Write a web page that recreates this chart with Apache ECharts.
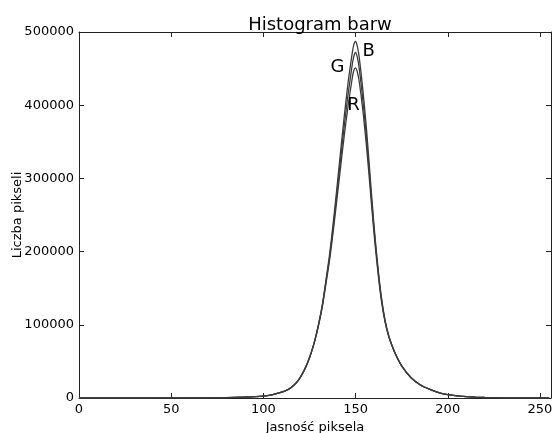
<!DOCTYPE html>
<html>
<head>
<meta charset="utf-8">
<script src="https://cdn.jsdelivr.net/npm/echarts@6/dist/echarts.min.js"></script>
<style>
  html, body { margin: 0; padding: 0; background: #fff; }
  #wykres { width: 553px; height: 433px; }
</style>
</head>
<body>
<div id="wykres"></div>
<script>
var wykres = echarts.init(document.getElementById("wykres"));

// jasnosc piksela (os x)
let jasnosc = [0, 20, 40, 60, 80, 90, 100, 104, 108, 112, 115, 118, 120, 122, 124, 126, 128, 130, 132, 134, 136, 138, 140, 142, 144, 146, 148, 149, 150, 151, 152, 154, 156, 158, 160, 162, 164, 166, 168, 170, 172, 175, 180, 185, 190, 196, 200, 205, 210, 215, 220, 230, 240, 255];

// liczba pikseli dla kanalow
let kanalR = [0, 0, 50, 200, 600, 1300, 2600, 3900, 6700, 10000, 14300, 21300, 28300, 37300, 48500, 62500, 79000, 100000, 125000, 157000, 190000, 230000, 274000, 318000, 361000, 400000, 434000, 447000, 451000, 445000, 432000, 392000, 342000, 284000, 225000, 175000, 133000, 104000, 84000, 70000, 58000, 44000, 28000, 18000, 12000, 6500, 4500, 3000, 2000, 1200, 700, 250, 80, 0];
let kanalG = [0, 0, 50, 200, 600, 1300, 2550, 3850, 6600, 9900, 14200, 21200, 28200, 37100, 48300, 62300, 79500, 101000, 126500, 160000, 194000, 236000, 282000, 329000, 375000, 416000, 452000, 466000, 472000, 465000, 450000, 406000, 354000, 292000, 231000, 179000, 136000, 105000, 84500, 70000, 58000, 44000, 28000, 18000, 12000, 6500, 4500, 3000, 2000, 1200, 700, 250, 80, 0];
let kanalB = [0, 0, 50, 200, 600, 1300, 2500, 3800, 6500, 9800, 14000, 21000, 28000, 37000, 48000, 62000, 80000, 102000, 128000, 162000, 198000, 242000, 290000, 340000, 388000, 432000, 468000, 482000, 487000, 480000, 465000, 420000, 365000, 300000, 236000, 182000, 138000, 106000, 85000, 70000, 58000, 44000, 28000, 18000, 12000, 6500, 4500, 3000, 2000, 1200, 700, 250, 80, 0];

let nazwyKanalow = ["R", "G", "B"];

function pary(xs, ys) {
  return xs.map(function (x, i) { return [x, ys[i]]; });
}

var kolorLinii = '#3c3c3c';
var czcionka = 'DejaVu Sans';

function seria(nazwa, dane, etykieta) {
  return {
    name: nazwa,
    type: 'line',
    smooth: 0.25,
    symbol: 'none',
    data: pary(jasnosc, dane),
    lineStyle: { color: kolorLinii, width: 1.3 },
    markPoint: {
      symbol: 'circle',
      symbolSize: 0,
      data: [{
        coord: etykieta,
        label: {
          show: true,
          formatter: nazwa,
          color: '#000',
          fontFamily: czcionka,
          fontSize: 18
        }
      }]
    },
    animation: false
  };
}

var osX = {
  type: 'value', min: 0, max: 256, interval: 50,
  axisLine: { onZero: false, lineStyle: { color: '#222', width: 1 } },
  axisTick: { inside: true, length: 5, lineStyle: { color: '#222' } },
  splitLine: { show: false }
};
var osY = {
  type: 'value', min: 0, max: 500000, interval: 100000,
  axisLine: { show: true, onZero: false, lineStyle: { color: '#222', width: 1 } },
  axisTick: { show: true, inside: true, length: 5, lineStyle: { color: '#222' } },
  splitLine: { show: false }
};

wykres.setOption({
  backgroundColor: '#fff',
  title: {
    text: 'Histogram barw',
    left: 315, top: 11, textAlign: 'center',
    textStyle: { fontFamily: czcionka, fontSize: 18, fontWeight: 'normal', color: '#000' }
  },
  grid: { left: 79, right: 2, top: 32, bottom: 35, outerBoundsMode: 'none', containLabel: false },
  xAxis: [
    Object.assign({}, osX, {
      position: 'bottom',
      name: 'Jasność piksela', nameLocation: 'middle', nameGap: 22,
      nameTextStyle: { fontFamily: czcionka, fontSize: 13, color: '#000' },
      axisLabel: { fontFamily: czcionka, fontSize: 13, color: '#000', margin: 5, showMaxLabel: false }
    }),
    Object.assign({}, osX, { position: 'top', axisLabel: { show: false } })
  ],
  yAxis: [
    Object.assign({}, osY, {
      position: 'left',
      name: 'Liczba pikseli', nameLocation: 'middle', nameGap: 55, nameMoveOverlap: false,
      nameTextStyle: { fontFamily: czcionka, fontSize: 13, color: '#000' },
      axisLabel: {
        fontFamily: czcionka, fontSize: 13, color: '#000', margin: 5,
        formatter: function (v) { return String(v); }
      }
    }),
    Object.assign({}, osY, { position: 'right', axisLabel: { show: false } })
  ],
  series: [
    seria(nazwyKanalow[0], kanalR, [148.9, 400000]),
    seria(nazwyKanalow[1], kanalG, [140.2, 452000]),
    seria(nazwyKanalow[2], kanalB, [157.1, 474000])
  ]
});
</script>
</body>
</html>
